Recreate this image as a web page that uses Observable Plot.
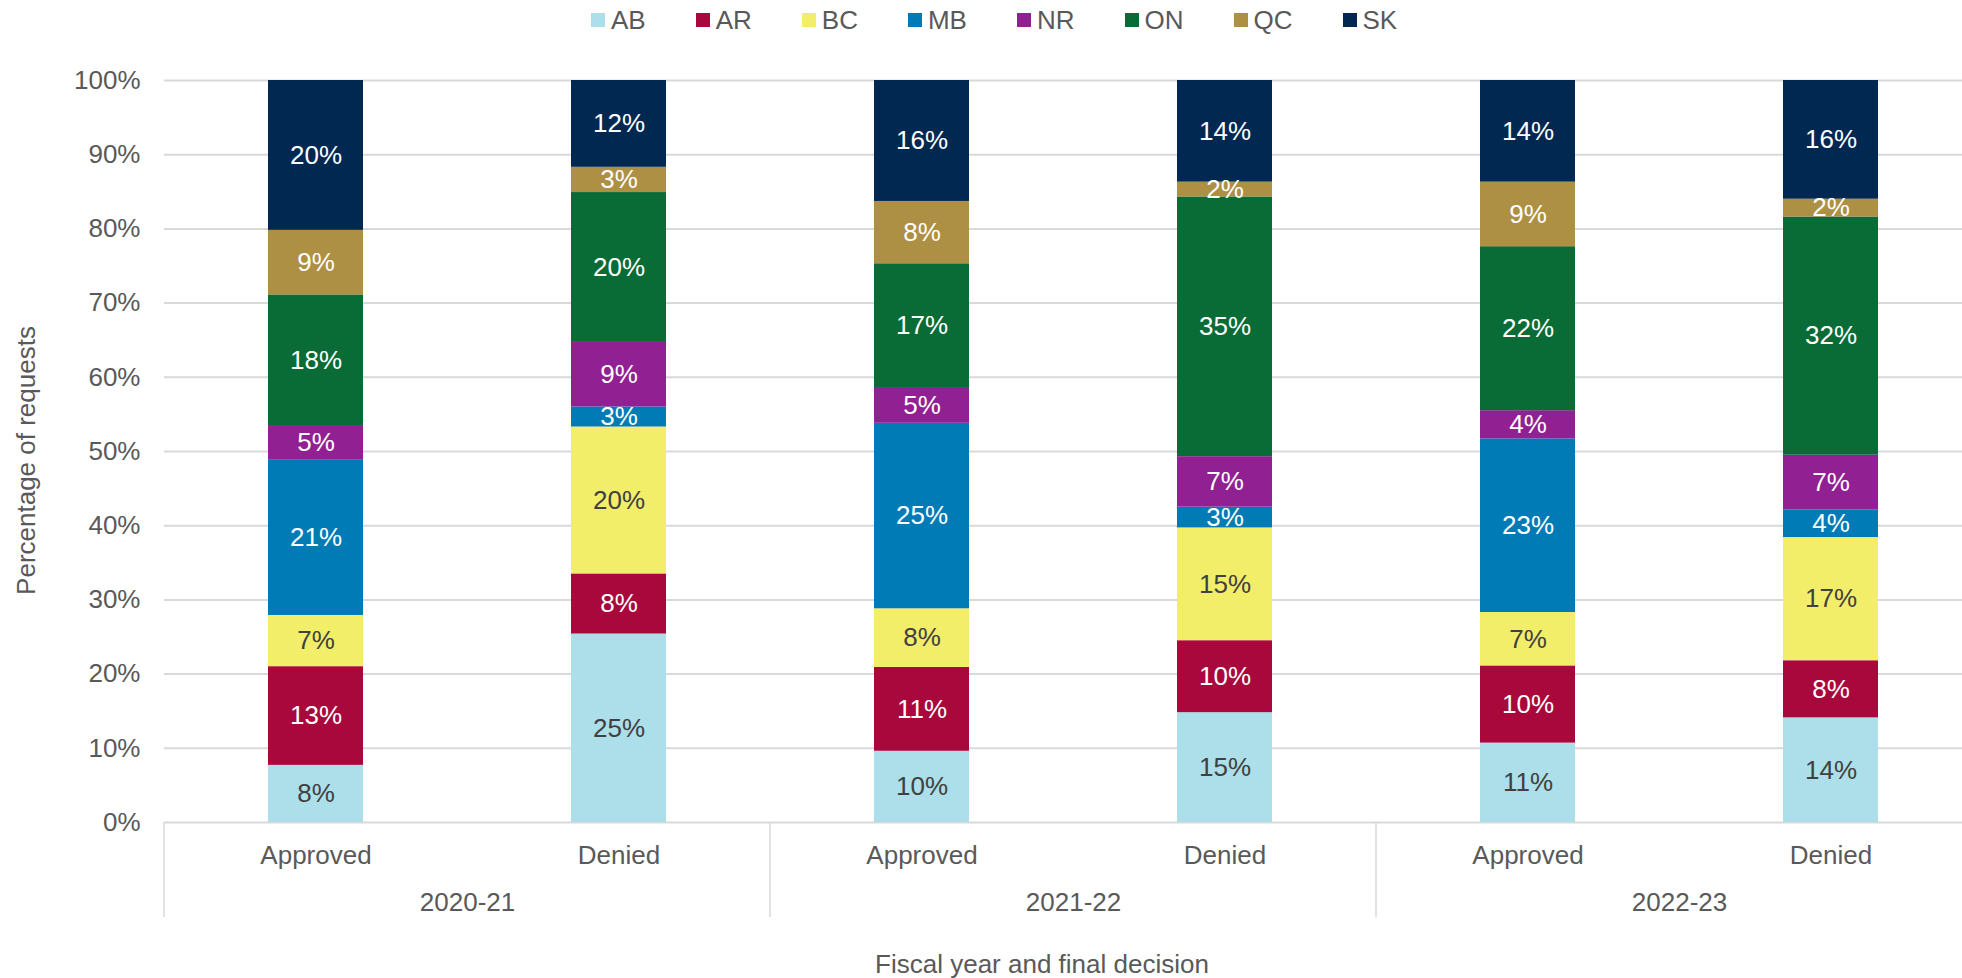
<!DOCTYPE html>
<html>
<head>
<meta charset="utf-8">
<script src="https://cdn.jsdelivr.net/npm/d3@7"></script>
<script src="https://cdn.jsdelivr.net/npm/@observablehq/plot@0.6"></script>
<style>
  html, body { margin: 0; padding: 0; background: #fff; overflow: hidden; width: 1962px; height: 978px; }
  body { font-family: "Liberation Sans", Arial, sans-serif; color: #595959; }
  #legend { position: relative; height: 40px; }
  #legend .items { position: absolute; left: 591px; top: 0; height: 40px; display: flex; align-items: center; }
  #legend .item { display: flex; align-items: center; margin-right: 50px; font-size: 26px; }
  #legend .sw { width: 14px; height: 14px; margin-right: 6px; }
  #chart { height: 895px; width: 1962px; overflow: hidden; }
  #chart svg { max-width: none !important; }
  #caption { position: relative; height: 43px; font-size: 26px; line-height: 26px; }
  #caption span { position: absolute; left: 1042px; top: 16px; transform: translateX(-50%); white-space: nowrap; }
</style>
</head>
<body>
<div id="legend"><div class="items"></div></div>
<div id="chart"></div>
<div id="caption"><span>Fiscal year and final decision</span></div>
<script>
// ---- data ----
const provinces = ["AB", "AR", "BC", "MB", "NR", "ON", "QC", "SK"];
const years = ["2020-21", "2021-22", "2022-23"];
const decisions = ["Approved", "Denied"];
const yTicks = [0, 10, 20, 30, 40, 50, 60, 70, 80, 90, 100];
const yTitle = "Percentage of requests";

// share of requests (%) by province, order AB..SK
const approved2020 = [7.7, 13.3, 6.9, 21.0, 4.6, 17.6, 8.7, 20.2];
const denied2020   = [25.4, 8.1, 19.8, 2.7, 8.7, 20.2, 3.4, 11.7];
const approved2021 = [9.6, 11.3, 7.9, 25.0, 4.7, 16.8, 8.4, 16.3];
const denied2021   = [14.8, 9.7, 15.2, 2.8, 6.8, 35.0, 2.0, 13.7];
const approved2022 = [10.7, 10.4, 7.2, 23.4, 3.8, 22.1, 8.7, 13.7];
const denied2022   = [14.1, 7.7, 16.6, 3.7, 7.4, 32.1, 2.4, 16.0];

// ---- styles ----
const colors = ["#ACDFE9", "#A8083B", "#F3EE6A", "#007BB6", "#912192", "#096B35", "#AD9044", "#002851"];
const darkLabelProvinces = ["AB", "BC"];

const series = [
  ["2020-21", "Approved", approved2020],
  ["2020-21", "Denied", denied2020],
  ["2021-22", "Approved", approved2021],
  ["2021-22", "Denied", denied2021],
  ["2022-23", "Approved", approved2022],
  ["2022-23", "Denied", denied2022]
];
const rows = [];
for (const [year, decision, vals] of series) {
  vals.forEach((v, i) => rows.push({year, decision, province: provinces[i], value: v}));
}
const fmt = v => Math.round(v) + "%";

// legend
const items = d3.select("#legend .items");
provinces.forEach((p, i) => {
  const it = items.append("div").attr("class", "item");
  it.append("div").attr("class", "sw").style("background", colors[i]);
  it.append("span").text(p);
});

const font = "'Liberation Sans', Arial, sans-serif";
const plot = Plot.plot({
  width: 1982,
  height: 895,
  marginLeft: 163,
  marginRight: 0,
  marginTop: 40,
  marginBottom: 113,
  style: {fontFamily: font, fontSize: "26px", color: "#595959", background: "transparent", overflow: "visible", maxWidth: "none"},
  fx: {domain: years, padding: 0, label: null},
  x: {domain: decisions, paddingInner: 0.687, paddingOuter: 0.3435, label: null},
  y: {domain: [0, 100], label: null},
  color: {domain: provinces, range: colors},
  marks: [
    Plot.gridY(yTicks, {stroke: "#d9d9d9", strokeOpacity: 1, strokeWidth: 2}),
    Plot.barY(rows, Plot.stackY({fx: "year", x: "decision", y: "value", fill: "province"})),
    Plot.text(rows, Plot.stackY({
      fx: "year", x: "decision", y: "value",
      text: d => darkLabelProvinces.includes(d.province) ? fmt(d.value) : null,
      fill: "#404040", fontSize: 26
    })),
    Plot.text(rows, Plot.stackY({
      fx: "year", x: "decision", y: "value",
      text: d => darkLabelProvinces.includes(d.province) ? null : fmt(d.value),
      fill: "white", fontSize: 26
    })),
    Plot.axisY({
      ticks: yTicks, tickFormat: d => d + "%", tickSize: 0, tickPadding: 24,
      label: null, fontSize: 26
    }),
    Plot.text([yTitle], {
      fx: () => years[0], text: d => d,
      frameAnchor: "left", rotate: -90, textAnchor: "middle", lineAnchor: "top",
      dx: -148, dy: 9, fill: "#595959", fontSize: 26
    }),
    Plot.axisX({anchor: "bottom", tickSize: 0, tickPadding: 23, label: null, fontSize: 26}),
    Plot.axisFx({anchor: "bottom", tickSize: 0, tickPadding: 70, label: null, fontSize: 26})
  ]
});
document.getElementById("chart").appendChild(plot);

// group separators below the axis, positioned from the fx and y scales
const fxs = plot.scale("fx");
const ys = plot.scale("y");
const bounds = years.map(y => fxs.apply(y));
bounds.push(fxs.apply(years[years.length - 1]) + fxs.bandwidth);
const y0 = ys.apply(0);
d3.select(plot).append("g")
  .attr("stroke", "#d9d9d9").attr("stroke-width", 1.5)
  .selectAll("line").data(bounds).join("line")
  .attr("x1", d => d).attr("x2", d => d)
  .attr("y1", y0).attr("y2", y0 + 95);
</script>
</body>
</html>
